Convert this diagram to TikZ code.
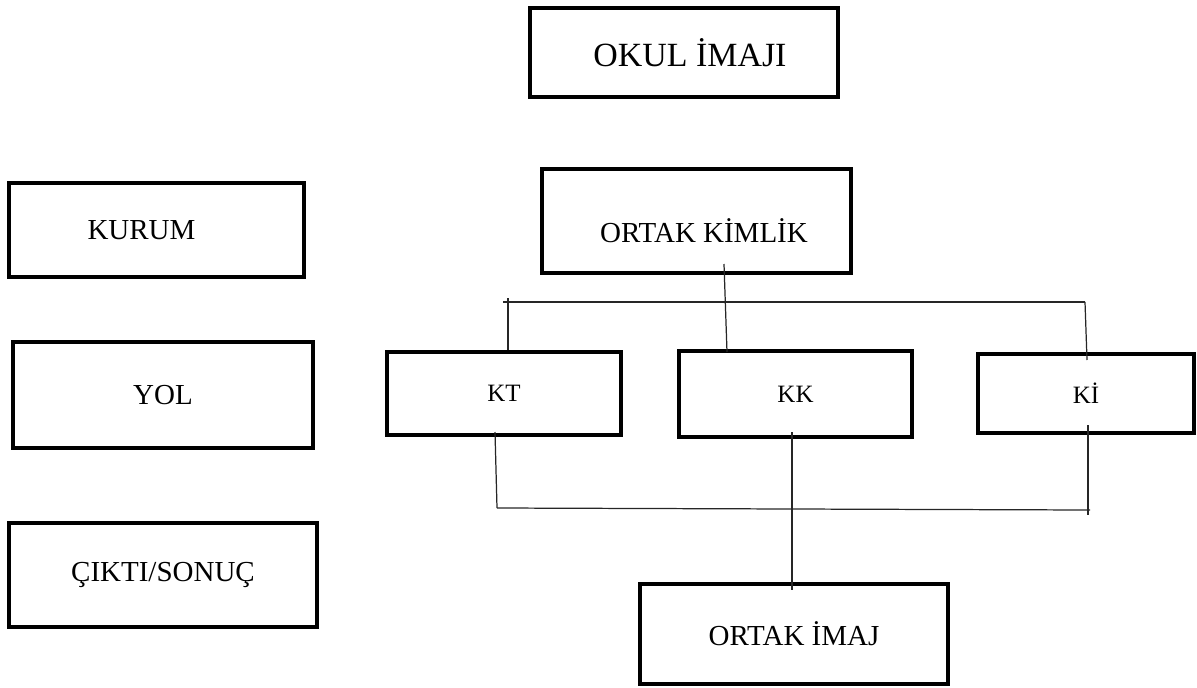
\documentclass[tikz,border=0pt]{standalone}
\usepackage{fontspec}
\setmainfont{Liberation Serif}
\begin{document}
\begin{tikzpicture}[x=0.02cm,y=-0.02cm,
  box/.style={draw=black, line width=2pt, rectangle, inner sep=0pt},
  link/.style={draw=black!85, line width=0.7pt},
  bigtxt/.style={font=\fontsize{19.3}{23}\selectfont},
  midtxt/.style={font=\fontsize{16.5}{20}\selectfont},
  smalltxt/.style={font=\fontsize{14.2}{17}\selectfont}]
\useasboundingbox (0,0) rectangle (1197,687);

% title
\node[box,minimum width=6.16cm,minimum height=1.78cm,
  label={[bigtxt,name=okultext,xshift=0.12cm]center:OKUL İMAJI}] (okul) at (684,52.5) {};

% left column
\node[box,minimum width=5.90cm,minimum height=1.88cm,
  label={[midtxt,name=kurumtext,xshift=-0.30cm]center:KURUM}] (kurum) at (156.5,230) {};
\node[box,midtxt,minimum width=6.00cm,minimum height=2.12cm] (yol) at (163,395) {YOL};
\node[box,midtxt,minimum width=6.16cm,minimum height=2.08cm] (cikti) at (163,575) {ÇIKTI/SONUÇ};

% right structure
\node[box,minimum width=6.18cm,minimum height=2.08cm,
  label={[midtxt,name=kimliktext,xshift=0.15cm,yshift=-0.20cm]center:ORTAK KİMLİK}] (kimlik) at (696.5,221) {};
\node[box,smalltxt,minimum width=4.68cm,minimum height=1.66cm] (kt) at (504,393.5) {KT};
\node[box,smalltxt,minimum width=4.66cm,minimum height=1.72cm] (kk) at (795.5,394) {KK};
\node[box,smalltxt,minimum width=4.32cm,minimum height=1.58cm] (ki) at (1086,393.5) {Kİ};
\node[box,midtxt,minimum width=6.16cm,minimum height=2.00cm] (imaj) at (794,634) {ORTAK İMAJ};

% upper bus
\coordinate (topL) at (503,302);
\coordinate (topR) at (1085,302);
\coordinate (dropA) at (508,298);
\coordinate (kimA) at (724,264);
\coordinate (kkA) at (727,352);
\coordinate (kiA) at (1087,360);
\draw[link] (topL) -- (topR);
\draw[link] (dropA) -- (dropA |- kt.north);
\draw[link] (kimA) -- (kkA);
\draw[link] (topR) -- (kiA);

% lower bus
\coordinate (ktB) at (495,432);
\coordinate (botL) at (497,508);
\coordinate (botR) at (1090,510);
\coordinate (kiB) at (1088,425);
\coordinate (kiC) at (1088,515);
\coordinate (kkB) at (792,432);
\coordinate (imajA) at (792,590);
\draw[link] (ktB) -- (botL);
\draw[link] (botL) -- (botR);
\draw[link] (kiB) -- (kiC);
\draw[link] (kkB) -- (imajA);
\end{tikzpicture}
\end{document}
